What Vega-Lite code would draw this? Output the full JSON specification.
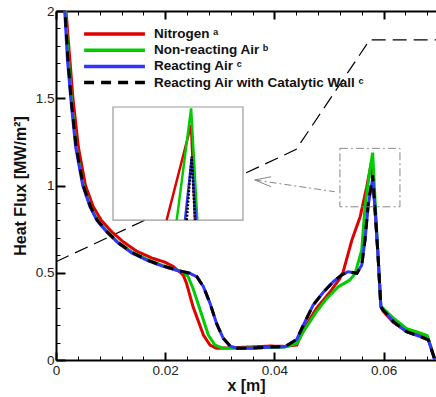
{
  "$schema": "https://vega.github.io/schema/vega-lite/v6.json",
  "width": 380,
  "height": 349,
  "autosize": "none",
  "padding": {"left": 56, "top": 11, "right": 0, "bottom": 37},
  "background": "white",
  "config": {
    "view": {"stroke": null},
    "font": "Liberation Sans",
    "axis": {
      "domainColor": "black",
      "domainWidth": 2,
      "tickColor": "black",
      "labelFont": "Liberation Sans",
      "labelFontSize": 13.5,
      "labelColor": "#222",
      "titleFont": "Liberation Sans",
      "titleFontSize": 16,
      "titleFontWeight": "bold",
      "titleColor": "#111",
      "grid": false
    }
  },
  "datasets": {
    "curves": [
      {"series": "Nitrogen ᵃ", "x": 0.0013, "y": 2.4},
      {"series": "Nitrogen ᵃ", "x": 0.00183, "y": 2.0},
      {"series": "Nitrogen ᵃ", "x": 0.0031, "y": 1.5},
      {"series": "Nitrogen ᵃ", "x": 0.0041, "y": 1.22},
      {"series": "Nitrogen ᵃ", "x": 0.0054, "y": 1.0},
      {"series": "Nitrogen ᵃ", "x": 0.0068, "y": 0.88},
      {"series": "Nitrogen ᵃ", "x": 0.0083, "y": 0.8},
      {"series": "Nitrogen ᵃ", "x": 0.0102, "y": 0.735},
      {"series": "Nitrogen ᵃ", "x": 0.0122, "y": 0.68},
      {"series": "Nitrogen ᵃ", "x": 0.0147, "y": 0.625},
      {"series": "Nitrogen ᵃ", "x": 0.0175, "y": 0.585},
      {"series": "Nitrogen ᵃ", "x": 0.02, "y": 0.56},
      {"series": "Nitrogen ᵃ", "x": 0.0215, "y": 0.535},
      {"series": "Nitrogen ᵃ", "x": 0.0233, "y": 0.487},
      {"series": "Nitrogen ᵃ", "x": 0.0239, "y": 0.44},
      {"series": "Nitrogen ᵃ", "x": 0.0251, "y": 0.305},
      {"series": "Nitrogen ᵃ", "x": 0.027, "y": 0.143},
      {"series": "Nitrogen ᵃ", "x": 0.0282, "y": 0.086},
      {"series": "Nitrogen ᵃ", "x": 0.0294, "y": 0.067},
      {"series": "Nitrogen ᵃ", "x": 0.0337, "y": 0.072},
      {"series": "Nitrogen ᵃ", "x": 0.0392, "y": 0.08},
      {"series": "Nitrogen ᵃ", "x": 0.0419, "y": 0.078},
      {"series": "Nitrogen ᵃ", "x": 0.0441, "y": 0.086},
      {"series": "Nitrogen ᵃ", "x": 0.0453, "y": 0.172},
      {"series": "Nitrogen ᵃ", "x": 0.0477, "y": 0.296},
      {"series": "Nitrogen ᵃ", "x": 0.0502, "y": 0.39},
      {"series": "Nitrogen ᵃ", "x": 0.052, "y": 0.468},
      {"series": "Nitrogen ᵃ", "x": 0.0526, "y": 0.506},
      {"series": "Nitrogen ᵃ", "x": 0.0542, "y": 0.688},
      {"series": "Nitrogen ᵃ", "x": 0.0557, "y": 0.82},
      {"series": "Nitrogen ᵃ", "x": 0.0569, "y": 0.99},
      {"series": "Nitrogen ᵃ", "x": 0.0578, "y": 1.136},
      {"series": "Nitrogen ᵃ", "x": 0.0584, "y": 0.88},
      {"series": "Nitrogen ᵃ", "x": 0.059, "y": 0.59},
      {"series": "Nitrogen ᵃ", "x": 0.0595, "y": 0.305},
      {"series": "Nitrogen ᵃ", "x": 0.0599, "y": 0.28},
      {"series": "Nitrogen ᵃ", "x": 0.0618, "y": 0.215},
      {"series": "Nitrogen ᵃ", "x": 0.0642, "y": 0.165},
      {"series": "Nitrogen ᵃ", "x": 0.0667, "y": 0.14},
      {"series": "Nitrogen ᵃ", "x": 0.0682, "y": 0.12},
      {"series": "Nitrogen ᵃ", "x": 0.0694, "y": 0.0},

      {"series": "Non-reacting Air  ᵇ", "x": 0.0012, "y": 2.45},
      {"series": "Non-reacting Air  ᵇ", "x": 0.00168, "y": 2.0},
      {"series": "Non-reacting Air  ᵇ", "x": 0.0028, "y": 1.5},
      {"series": "Non-reacting Air  ᵇ", "x": 0.0037, "y": 1.22},
      {"series": "Non-reacting Air  ᵇ", "x": 0.005, "y": 1.0},
      {"series": "Non-reacting Air  ᵇ", "x": 0.0063, "y": 0.88},
      {"series": "Non-reacting Air  ᵇ", "x": 0.0076, "y": 0.8},
      {"series": "Non-reacting Air  ᵇ", "x": 0.0095, "y": 0.73},
      {"series": "Non-reacting Air  ᵇ", "x": 0.0115, "y": 0.67},
      {"series": "Non-reacting Air  ᵇ", "x": 0.014, "y": 0.617},
      {"series": "Non-reacting Air  ᵇ", "x": 0.017, "y": 0.572},
      {"series": "Non-reacting Air  ᵇ", "x": 0.0195, "y": 0.542},
      {"series": "Non-reacting Air  ᵇ", "x": 0.0222, "y": 0.515},
      {"series": "Non-reacting Air  ᵇ", "x": 0.0235, "y": 0.5},
      {"series": "Non-reacting Air  ᵇ", "x": 0.0242, "y": 0.477},
      {"series": "Non-reacting Air  ᵇ", "x": 0.0251, "y": 0.41},
      {"series": "Non-reacting Air  ᵇ", "x": 0.0264, "y": 0.287},
      {"series": "Non-reacting Air  ᵇ", "x": 0.0279, "y": 0.143},
      {"series": "Non-reacting Air  ᵇ", "x": 0.0291, "y": 0.086},
      {"series": "Non-reacting Air  ᵇ", "x": 0.0306, "y": 0.067},
      {"series": "Non-reacting Air  ᵇ", "x": 0.0337, "y": 0.067},
      {"series": "Non-reacting Air  ᵇ", "x": 0.0392, "y": 0.072},
      {"series": "Non-reacting Air  ᵇ", "x": 0.0419, "y": 0.074},
      {"series": "Non-reacting Air  ᵇ", "x": 0.0441, "y": 0.095},
      {"series": "Non-reacting Air  ᵇ", "x": 0.0453, "y": 0.162},
      {"series": "Non-reacting Air  ᵇ", "x": 0.0477, "y": 0.277},
      {"series": "Non-reacting Air  ᵇ", "x": 0.0496, "y": 0.353},
      {"series": "Non-reacting Air  ᵇ", "x": 0.0517, "y": 0.42},
      {"series": "Non-reacting Air  ᵇ", "x": 0.0538, "y": 0.458},
      {"series": "Non-reacting Air  ᵇ", "x": 0.0548, "y": 0.497},
      {"series": "Non-reacting Air  ᵇ", "x": 0.056, "y": 0.63},
      {"series": "Non-reacting Air  ᵇ", "x": 0.0566, "y": 0.88},
      {"series": "Non-reacting Air  ᵇ", "x": 0.0574, "y": 1.07},
      {"series": "Non-reacting Air  ᵇ", "x": 0.058, "y": 1.188},
      {"series": "Non-reacting Air  ᵇ", "x": 0.0585, "y": 0.88},
      {"series": "Non-reacting Air  ᵇ", "x": 0.059, "y": 0.59},
      {"series": "Non-reacting Air  ᵇ", "x": 0.0595, "y": 0.31},
      {"series": "Non-reacting Air  ᵇ", "x": 0.0601, "y": 0.29},
      {"series": "Non-reacting Air  ᵇ", "x": 0.0618, "y": 0.24},
      {"series": "Non-reacting Air  ᵇ", "x": 0.0642, "y": 0.18},
      {"series": "Non-reacting Air  ᵇ", "x": 0.0667, "y": 0.155},
      {"series": "Non-reacting Air  ᵇ", "x": 0.068, "y": 0.14},
      {"series": "Non-reacting Air  ᵇ", "x": 0.0694, "y": 0.0},

      {"series": "Reacting Air ᶜ", "x": 0.0009, "y": 2.45},
      {"series": "Reacting Air ᶜ", "x": 0.0016, "y": 2.0},
      {"series": "Reacting Air ᶜ", "x": 0.0021, "y": 1.72},
      {"series": "Reacting Air ᶜ", "x": 0.0027, "y": 1.5},
      {"series": "Reacting Air ᶜ", "x": 0.0036, "y": 1.22},
      {"series": "Reacting Air ᶜ", "x": 0.0049, "y": 1.0},
      {"series": "Reacting Air ᶜ", "x": 0.0062, "y": 0.88},
      {"series": "Reacting Air ᶜ", "x": 0.0075, "y": 0.8},
      {"series": "Reacting Air ᶜ", "x": 0.0094, "y": 0.73},
      {"series": "Reacting Air ᶜ", "x": 0.0114, "y": 0.67},
      {"series": "Reacting Air ᶜ", "x": 0.0139, "y": 0.613},
      {"series": "Reacting Air ᶜ", "x": 0.0169, "y": 0.568},
      {"series": "Reacting Air ᶜ", "x": 0.0195, "y": 0.538},
      {"series": "Reacting Air ᶜ", "x": 0.0222, "y": 0.513},
      {"series": "Reacting Air ᶜ", "x": 0.0245, "y": 0.497},
      {"series": "Reacting Air ᶜ", "x": 0.0258, "y": 0.477},
      {"series": "Reacting Air ᶜ", "x": 0.027, "y": 0.42},
      {"series": "Reacting Air ᶜ", "x": 0.0282, "y": 0.326},
      {"series": "Reacting Air ᶜ", "x": 0.0294, "y": 0.21},
      {"series": "Reacting Air ᶜ", "x": 0.0306, "y": 0.126},
      {"series": "Reacting Air ᶜ", "x": 0.0319, "y": 0.08},
      {"series": "Reacting Air ᶜ", "x": 0.0332, "y": 0.067},
      {"series": "Reacting Air ᶜ", "x": 0.0355, "y": 0.067},
      {"series": "Reacting Air ᶜ", "x": 0.0392, "y": 0.074},
      {"series": "Reacting Air ᶜ", "x": 0.0419, "y": 0.076},
      {"series": "Reacting Air ᶜ", "x": 0.0441, "y": 0.118},
      {"series": "Reacting Air ᶜ", "x": 0.0453, "y": 0.2},
      {"series": "Reacting Air ᶜ", "x": 0.0471, "y": 0.315},
      {"series": "Reacting Air ᶜ", "x": 0.049, "y": 0.39},
      {"series": "Reacting Air ᶜ", "x": 0.0508, "y": 0.449},
      {"series": "Reacting Air ᶜ", "x": 0.0523, "y": 0.487},
      {"series": "Reacting Air ᶜ", "x": 0.0535, "y": 0.506},
      {"series": "Reacting Air ᶜ", "x": 0.0551, "y": 0.497},
      {"series": "Reacting Air ᶜ", "x": 0.056, "y": 0.544},
      {"series": "Reacting Air ᶜ", "x": 0.0566, "y": 0.688},
      {"series": "Reacting Air ᶜ", "x": 0.0572, "y": 0.89},
      {"series": "Reacting Air ᶜ", "x": 0.058, "y": 1.04},
      {"series": "Reacting Air ᶜ", "x": 0.0584, "y": 0.88},
      {"series": "Reacting Air ᶜ", "x": 0.059, "y": 0.59},
      {"series": "Reacting Air ᶜ", "x": 0.0595, "y": 0.305},
      {"series": "Reacting Air ᶜ", "x": 0.0599, "y": 0.287},
      {"series": "Reacting Air ᶜ", "x": 0.0618, "y": 0.22},
      {"series": "Reacting Air ᶜ", "x": 0.0642, "y": 0.162},
      {"series": "Reacting Air ᶜ", "x": 0.0667, "y": 0.134},
      {"series": "Reacting Air ᶜ", "x": 0.0682, "y": 0.115},
      {"series": "Reacting Air ᶜ", "x": 0.0694, "y": 0.0},

      {"series": "Reacting Air with Catalytic Wall ᶜ", "x": 0.001, "y": 2.45},
      {"series": "Reacting Air with Catalytic Wall ᶜ", "x": 0.00165, "y": 2.0},
      {"series": "Reacting Air with Catalytic Wall ᶜ", "x": 0.0022, "y": 1.72},
      {"series": "Reacting Air with Catalytic Wall ᶜ", "x": 0.00275, "y": 1.5},
      {"series": "Reacting Air with Catalytic Wall ᶜ", "x": 0.0037, "y": 1.22},
      {"series": "Reacting Air with Catalytic Wall ᶜ", "x": 0.005, "y": 1.0},
      {"series": "Reacting Air with Catalytic Wall ᶜ", "x": 0.0063, "y": 0.88},
      {"series": "Reacting Air with Catalytic Wall ᶜ", "x": 0.0076, "y": 0.8},
      {"series": "Reacting Air with Catalytic Wall ᶜ", "x": 0.0095, "y": 0.73},
      {"series": "Reacting Air with Catalytic Wall ᶜ", "x": 0.0115, "y": 0.67},
      {"series": "Reacting Air with Catalytic Wall ᶜ", "x": 0.014, "y": 0.615},
      {"series": "Reacting Air with Catalytic Wall ᶜ", "x": 0.017, "y": 0.57},
      {"series": "Reacting Air with Catalytic Wall ᶜ", "x": 0.0195, "y": 0.54},
      {"series": "Reacting Air with Catalytic Wall ᶜ", "x": 0.0222, "y": 0.515},
      {"series": "Reacting Air with Catalytic Wall ᶜ", "x": 0.0245, "y": 0.497},
      {"series": "Reacting Air with Catalytic Wall ᶜ", "x": 0.0258, "y": 0.477},
      {"series": "Reacting Air with Catalytic Wall ᶜ", "x": 0.027, "y": 0.42},
      {"series": "Reacting Air with Catalytic Wall ᶜ", "x": 0.0282, "y": 0.326},
      {"series": "Reacting Air with Catalytic Wall ᶜ", "x": 0.0294, "y": 0.21},
      {"series": "Reacting Air with Catalytic Wall ᶜ", "x": 0.0306, "y": 0.126},
      {"series": "Reacting Air with Catalytic Wall ᶜ", "x": 0.0319, "y": 0.08},
      {"series": "Reacting Air with Catalytic Wall ᶜ", "x": 0.0332, "y": 0.067},
      {"series": "Reacting Air with Catalytic Wall ᶜ", "x": 0.0355, "y": 0.067},
      {"series": "Reacting Air with Catalytic Wall ᶜ", "x": 0.0392, "y": 0.074},
      {"series": "Reacting Air with Catalytic Wall ᶜ", "x": 0.0419, "y": 0.076},
      {"series": "Reacting Air with Catalytic Wall ᶜ", "x": 0.0441, "y": 0.118},
      {"series": "Reacting Air with Catalytic Wall ᶜ", "x": 0.0453, "y": 0.2},
      {"series": "Reacting Air with Catalytic Wall ᶜ", "x": 0.0471, "y": 0.315},
      {"series": "Reacting Air with Catalytic Wall ᶜ", "x": 0.049, "y": 0.39},
      {"series": "Reacting Air with Catalytic Wall ᶜ", "x": 0.0508, "y": 0.449},
      {"series": "Reacting Air with Catalytic Wall ᶜ", "x": 0.0523, "y": 0.487},
      {"series": "Reacting Air with Catalytic Wall ᶜ", "x": 0.0535, "y": 0.506},
      {"series": "Reacting Air with Catalytic Wall ᶜ", "x": 0.0551, "y": 0.497},
      {"series": "Reacting Air with Catalytic Wall ᶜ", "x": 0.056, "y": 0.544},
      {"series": "Reacting Air with Catalytic Wall ᶜ", "x": 0.0566, "y": 0.688},
      {"series": "Reacting Air with Catalytic Wall ᶜ", "x": 0.0572, "y": 0.9},
      {"series": "Reacting Air with Catalytic Wall ᶜ", "x": 0.058, "y": 1.06},
      {"series": "Reacting Air with Catalytic Wall ᶜ", "x": 0.0584, "y": 0.88},
      {"series": "Reacting Air with Catalytic Wall ᶜ", "x": 0.059, "y": 0.59},
      {"series": "Reacting Air with Catalytic Wall ᶜ", "x": 0.0595, "y": 0.305},
      {"series": "Reacting Air with Catalytic Wall ᶜ", "x": 0.0599, "y": 0.287},
      {"series": "Reacting Air with Catalytic Wall ᶜ", "x": 0.0618, "y": 0.22},
      {"series": "Reacting Air with Catalytic Wall ᶜ", "x": 0.0642, "y": 0.162},
      {"series": "Reacting Air with Catalytic Wall ᶜ", "x": 0.0667, "y": 0.134},
      {"series": "Reacting Air with Catalytic Wall ᶜ", "x": 0.0682, "y": 0.115},
      {"series": "Reacting Air with Catalytic Wall ᶜ", "x": 0.0694, "y": 0.0}
    ],
    "inset": [
      {"series": "Nitrogen ᵃ", "x": 0.02027, "y": 0.802},
      {"series": "Nitrogen ᵃ", "x": 0.02473, "y": 1.347},
      {"series": "Nitrogen ᵃ", "x": 0.02546, "y": 0.802},
      {"series": "Non-reacting Air  ᵇ", "x": 0.02211, "y": 0.802},
      {"series": "Non-reacting Air  ᵇ", "x": 0.02475, "y": 1.442},
      {"series": "Non-reacting Air  ᵇ", "x": 0.02588, "y": 0.802},
      {"series": "Reacting Air ᶜ", "x": 0.02363, "y": 0.802},
      {"series": "Reacting Air ᶜ", "x": 0.02485, "y": 1.155},
      {"series": "Reacting Air ᶜ", "x": 0.02564, "y": 0.802}
    ],
    "insetK": [
      {"x": 0.02394, "y": 0.802},
      {"x": 0.02485, "y": 1.166},
      {"x": 0.02546, "y": 0.802}
    ],
    "geom": [
      {"x": 0.0, "y": 0.563},
      {"x": 0.044, "y": 1.207},
      {"x": 0.05745, "y": 1.834},
      {"x": 0.0696, "y": 1.834}
    ],
    "boxes": [
      {"kind": "zoom", "x": 0.052, "x2": 0.063, "y": 1.213, "y2": 0.878},
      {"kind": "inset", "x": 0.01044, "x2": 0.03425, "y": 1.45, "y2": 0.802}
    ],
    "shaft": [
      {"x": 0.0364, "y": 1.0315},
      {"x": 0.05104, "y": 0.9645}
    ],
    "head": [
      {"o": 1, "x": 0.0394, "y": 1.05},
      {"o": 2, "x": 0.0364, "y": 1.0315},
      {"o": 3, "x": 0.0394, "y": 0.993}
    ]
  },
  "layer": [
    {
      "data": {"name": "geom"},
      "mark": {"type": "line", "color": "black", "strokeWidth": 1.2, "strokeDash": [14, 7]},
      "encoding": {
        "x": {"field": "x", "type": "quantitative", "scale": {"domain": [0, 0.0696], "nice": false},
          "axis": {"orient": "top", "title": null, "labels": false,
            "values": [0,0.004,0.008,0.012,0.016,0.02,0.024,0.028,0.032,0.036,0.04,0.044,0.048,0.052,0.056,0.06,0.064,0.068],
            "tickSize": {"condition": {"test": "abs(datum.value*50-round(datum.value*50))<1e-6", "value": -8}, "value": -4},
            "tickWidth": {"condition": {"test": "abs(datum.value*50-round(datum.value*50))<1e-6", "value": 2}, "value": 1}}},
        "y": {"field": "y", "type": "quantitative", "scale": {"domain": [0, 2], "nice": false}, "axis": null}
      }
    },
    {
      "data": {"name": "curves"},
      "mark": {"type": "line", "strokeWidth": 3, "clip": true},
      "encoding": {
        "x": {"field": "x", "type": "quantitative", "scale": {"domain": [0, 0.0696], "nice": false},
          "axis": {"orient": "bottom", "title": "x [m]",
            "values": [0,0.004,0.008,0.012,0.016,0.02,0.024,0.028,0.032,0.036,0.04,0.044,0.048,0.052,0.056,0.06,0.064,0.068],
            "labelExpr": "abs(datum.value*50-round(datum.value*50))<1e-6 ? format(datum.value, '~g') : ''",
            "tickSize": {"condition": {"test": "abs(datum.value*50-round(datum.value*50))<1e-6", "value": -8}, "value": -4},
            "tickWidth": {"condition": {"test": "abs(datum.value*50-round(datum.value*50))<1e-6", "value": 2}, "value": 1},
            "labelPadding": 11, "titlePadding": 1, "labelFlush": false}},
        "y": {"field": "y", "type": "quantitative", "scale": {"domain": [0, 2], "nice": false},
          "axis": {"orient": "left", "title": "Heat Flux [MW/m²]",
            "values": [0,0.1,0.2,0.3,0.4,0.5,0.6,0.7,0.8,0.9,1,1.1,1.2,1.3,1.4,1.5,1.6,1.7,1.8,1.9,2],
            "labelExpr": "abs(datum.value*2-round(datum.value*2))<1e-6 ? format(datum.value, '~g') : ''",
            "tickSize": {"condition": {"test": "abs(datum.value*2-round(datum.value*2))<1e-6", "value": -9}, "value": -4},
            "tickWidth": {"condition": {"test": "abs(datum.value*2-round(datum.value*2))<1e-6", "value": 2}, "value": 1},
            "labelPadding": 11, "titlePadding": 7, "labelFlush": false}},
        "color": {"field": "series", "type": "nominal",
          "scale": {"domain": ["Nitrogen ᵃ", "Non-reacting Air  ᵇ", "Reacting Air ᶜ", "Reacting Air with Catalytic Wall ᶜ"],
            "range": ["#e00000", "#00cc00", "#3333ff", "#000000"]},
          "legend": {"title": null, "orient": "none", "legendX": 26, "legendY": 16, "symbolType": "stroke", "symbolSize": 3700,
            "symbolStrokeWidth": 3.5, "labelFont": "Liberation Sans", "labelFontSize": 13.5, "labelFontWeight": "bold",
            "labelColor": "#111", "labelOffset": 7, "rowPadding": 2.2, "clipHeight": 14, "padding": 0, "labelLimit": 400}},
        "strokeDash": {"field": "series", "type": "nominal",
          "scale": {"domain": ["Nitrogen ᵃ", "Non-reacting Air  ᵇ", "Reacting Air ᶜ", "Reacting Air with Catalytic Wall ᶜ"],
            "range": [[1, 0], [1, 0], [1, 0], [10, 7]]},
          "legend": {"title": null, "orient": "none", "legendX": 26, "legendY": 16, "symbolType": "stroke", "symbolSize": 3700,
            "symbolStrokeWidth": 3.5, "labelFont": "Liberation Sans", "labelFontSize": 13.5, "labelFontWeight": "bold",
            "labelColor": "#111", "labelOffset": 7, "rowPadding": 2.2, "clipHeight": 14, "padding": 0, "labelLimit": 400}}
      }
    },
    {
      "data": {"name": "boxes"},
      "transform": [{"filter": "datum.kind === 'zoom'"}],
      "mark": {"type": "rect", "fill": "transparent", "stroke": "#888", "strokeWidth": 1, "strokeDash": [8, 3, 2, 3]},
      "encoding": {
        "x": {"field": "x", "type": "quantitative", "axis": null},
        "x2": {"field": "x2"},
        "y": {"field": "y", "type": "quantitative", "axis": null},
        "y2": {"field": "y2"}
      }
    },
    {
      "data": {"name": "shaft"},
      "mark": {"type": "line", "color": "#888", "strokeWidth": 1, "strokeDash": [7, 3, 2, 3]},
      "encoding": {
        "x": {"field": "x", "type": "quantitative", "axis": null},
        "y": {"field": "y", "type": "quantitative", "axis": null}
      }
    },
    {
      "data": {"name": "head"},
      "mark": {"type": "line", "color": "#888", "strokeWidth": 1},
      "encoding": {
        "x": {"field": "x", "type": "quantitative", "axis": null},
        "y": {"field": "y", "type": "quantitative", "axis": null},
        "order": {"field": "o", "type": "quantitative"}
      }
    },
    {
      "data": {"name": "boxes"},
      "transform": [{"filter": "datum.kind === 'inset'"}],
      "mark": {"type": "rect", "fill": "white", "stroke": "#999", "strokeWidth": 1.2},
      "encoding": {
        "x": {"field": "x", "type": "quantitative", "axis": null},
        "x2": {"field": "x2"},
        "y": {"field": "y", "type": "quantitative", "axis": null},
        "y2": {"field": "y2"}
      }
    },
    {
      "data": {"name": "inset"},
      "mark": {"type": "line", "strokeWidth": 2.5},
      "encoding": {
        "x": {"field": "x", "type": "quantitative", "axis": null},
        "y": {"field": "y", "type": "quantitative", "axis": null},
        "color": {"field": "series", "type": "nominal"}
      }
    },
    {
      "data": {"name": "insetK"},
      "mark": {"type": "line", "color": "black", "strokeWidth": 2.5, "strokeDash": [2, 1.5]},
      "encoding": {
        "x": {"field": "x", "type": "quantitative", "axis": null},
        "y": {"field": "y", "type": "quantitative", "axis": null}
      }
    }
  ],
  "resolve": {"axis": {"x": "independent", "y": "independent"}}
}
